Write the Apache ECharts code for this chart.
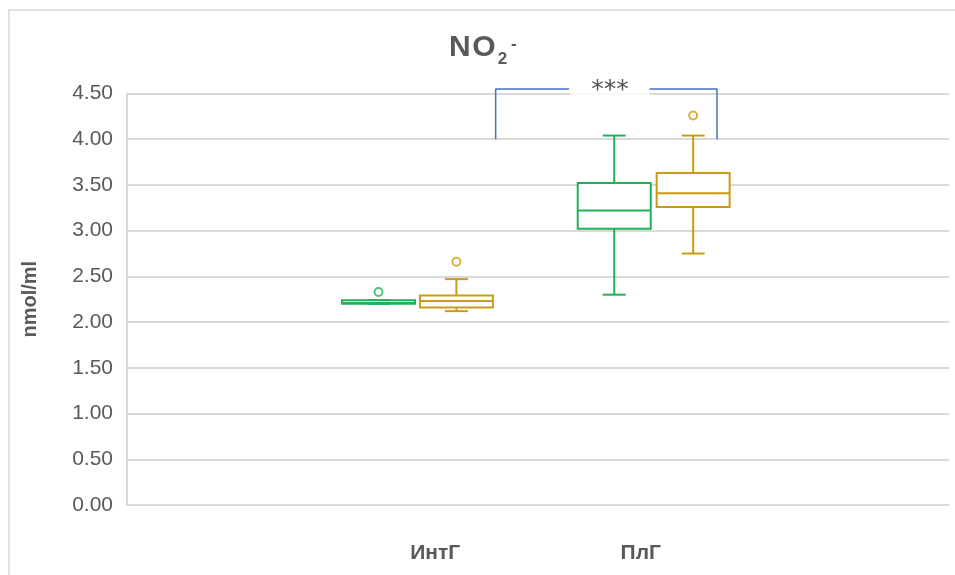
<!DOCTYPE html>
<html>
<head>
<meta charset="utf-8">
<script src="https://cdn.jsdelivr.net/npm/echarts@6/dist/echarts.min.js"></script>
<style>
html,body{margin:0;padding:0;background:#fff;}
#chart{width:955px;height:575px;}
</style>
</head>
<body>
<div id="chart"></div>
<script>
// ---- data ----
const categories = ['ИнтГ', 'ПлГ'];
const yTicks = [0, 0.5, 1, 1.5, 2, 2.5, 3, 3.5, 4, 4.5];
// [min, Q1, median, Q3, max]
const greenStats = [
  [2.20, 2.20, 2.21, 2.24, 2.24],
  [2.30, 3.02, 3.22, 3.52, 4.04]
];
const goldStats = [
  [2.12, 2.16, 2.23, 2.29, 2.47],
  [2.75, 3.26, 3.41, 3.63, 4.04]
];
const greenOutliers = [[2.33], []];
const goldOutliers = [[2.66], [4.26]];
const significance = '***';
const bracketBase = 4.0;
const bracketTop = 4.55;

// ---- layout (positions on a hidden 0..4 category-unit axis) ----
const greenPos = [1.224, 2.371];
const goldPos = [1.603, 2.755];
const bracketX = [1.794, 2.151, 2.540, 2.871];
const sigPos = [2.35, 4.53];

const GREEN = '#1DB15A';
const GOLD = '#CC9C16';
const BOX_W = 73, CAP_W = 23;
const FONT = 'Liberation Sans';

function boxRenderer(color) {
  return function (params, api) {
    const x = api.value(0);
    const pMin = api.coord([x, api.value(1)]);
    const pQ1 = api.coord([x, api.value(2)]);
    const pMed = api.coord([x, api.value(3)]);
    const pQ3 = api.coord([x, api.value(4)]);
    const pMax = api.coord([x, api.value(5)]);
    const cx = pMed[0], hw = BOX_W / 2, cw = CAP_W / 2;
    const st = { stroke: color, lineWidth: 2, fill: null };
    const line = (x1, y1, x2, y2) => ({ type: 'line', shape: { x1, y1, x2, y2 }, style: st });
    return {
      type: 'group',
      children: [
        line(cx, pQ3[1], cx, pMax[1]),
        line(cx, pQ1[1], cx, pMin[1]),
        line(cx - cw, pMax[1], cx + cw, pMax[1]),
        line(cx - cw, pMin[1], cx + cw, pMin[1]),
        { type: 'rect', shape: { x: cx - hw, y: pQ3[1], width: 2 * hw, height: pQ1[1] - pQ3[1] }, style: { stroke: color, lineWidth: 2, fill: '#fff' } },
        line(cx - hw, pMed[1], cx + hw, pMed[1])
      ]
    };
  };
}

function boxData(pos, stats) {
  return stats.map((s, i) => [pos[i]].concat(s));
}
function outlierData(pos, outs) {
  const r = [];
  outs.forEach((arr, i) => arr.forEach(v => r.push([pos[i], v])));
  return r;
}

const chart = echarts.init(document.getElementById('chart'), null, { renderer: 'canvas' });
const option = {
  backgroundColor: '#fff',
  animation: false,
  title: {
    text: '{a|N}{s| }{a|O}{b|2}{c|-}',
    left: 449,
    top: 28,
    padding: 0,
    textStyle: {
      rich: {
        a: { fontFamily: FONT, fontSize: 30, fontWeight: 'bold', color: '#595959', lineHeight: 40, verticalAlign: 'middle' },
        s: { fontFamily: FONT, fontSize: 6, lineHeight: 40, verticalAlign: 'middle' },
        b: { fontFamily: FONT, fontSize: 17, fontWeight: 'bold', color: '#595959', lineHeight: 17, verticalAlign: 'bottom', padding: [0, 0, 0, 2] },
        c: { fontFamily: FONT, fontSize: 17, fontWeight: 'bold', color: '#595959', lineHeight: 17, verticalAlign: 'middle', padding: [0, 0, 8, 4] }
      }
    }
  },
  graphic: [{
    type: 'polyline',
    shape: { points: [[9, 575], [9, 10], [955, 10]] },
    style: { stroke: '#d9d9d9', lineWidth: 1.5, fill: null },
    silent: true
  }],
  grid: { left: 127, right: 6, top: 93.5, bottom: 70, containLabel: false },
  xAxis: [{
    type: 'category',
    data: [''].concat(categories, ['']),
    boundaryGap: true,
    axisLine: { show: true, lineStyle: { color: '#d9d9d9', width: 2 } },
    axisTick: { show: false },
    axisLabel: { interval: 0, margin: 38, fontFamily: FONT, fontSize: 21, fontWeight: 'bold', color: '#595959' },
    splitLine: { show: false }
  }, {
    type: 'value',
    min: 0, max: 4,
    show: false
  }],
  yAxis: {
    type: 'value',
    min: yTicks[0],
    max: yTicks[yTicks.length - 1],
    interval: 0.5,
    name: 'nmol/ml',
    nameLocation: 'middle',
    nameRotate: 90,
    nameGap: 87,
    nameTextStyle: { fontFamily: FONT, fontSize: 20, fontWeight: 'bold', color: '#595959' },
    axisLine: { show: true, lineStyle: { color: '#d9d9d9', width: 2 } },
    axisTick: { show: false },
    axisLabel: { margin: 14, fontFamily: FONT, fontSize: 21, color: '#595959', formatter: v => v.toFixed(2) },
    splitLine: { show: true, lineStyle: { color: '#d9d9d9', width: 2 } }
  },
  series: [
    {
      type: 'custom', name: 'green', xAxisIndex: 1, yAxisIndex: 0,
      renderItem: boxRenderer(GREEN),
      data: boxData(greenPos, greenStats),
      encode: { x: 0, y: [1, 2, 3, 4, 5] }
    },
    {
      type: 'custom', name: 'gold', xAxisIndex: 1, yAxisIndex: 0,
      renderItem: boxRenderer(GOLD),
      data: boxData(goldPos, goldStats),
      encode: { x: 0, y: [1, 2, 3, 4, 5] }
    },
    {
      type: 'scatter', xAxisIndex: 1, symbol: 'circle', symbolSize: 8,
      itemStyle: { color: '#fff', borderColor: GREEN, borderWidth: 2 },
      data: outlierData(greenPos, greenOutliers)
    },
    {
      type: 'scatter', xAxisIndex: 1, symbol: 'circle', symbolSize: 8,
      itemStyle: { color: '#fff', borderColor: GOLD, borderWidth: 2 },
      data: outlierData(goldPos, goldOutliers)
    },
    {
      type: 'line', xAxisIndex: 1, clip: false, symbol: 'none',
      lineStyle: { color: '#4472C4', width: 1.5 },
      data: [[bracketX[0], bracketBase], [bracketX[0], bracketTop], [bracketX[1], bracketTop]]
    },
    {
      type: 'line', xAxisIndex: 1, clip: false, symbol: 'none',
      lineStyle: { color: '#4472C4', width: 1.5 },
      data: [[bracketX[2], bracketTop], [bracketX[3], bracketTop], [bracketX[3], bracketBase]]
    },
    {
      type: 'scatter', xAxisIndex: 1, clip: false, symbolSize: 1,
      itemStyle: { color: 'rgba(0,0,0,0)' },
      z: 10,
      label: {
        show: true, position: 'inside', formatter: significance,
        fontFamily: 'DejaVu Sans', fontSize: 25, color: '#262626',
        backgroundColor: '#fff', padding: [3, 21, 1, 21]
      },
      data: [sigPos]
    }
  ]
};
chart.setOption(option);
</script>
</body>
</html>
